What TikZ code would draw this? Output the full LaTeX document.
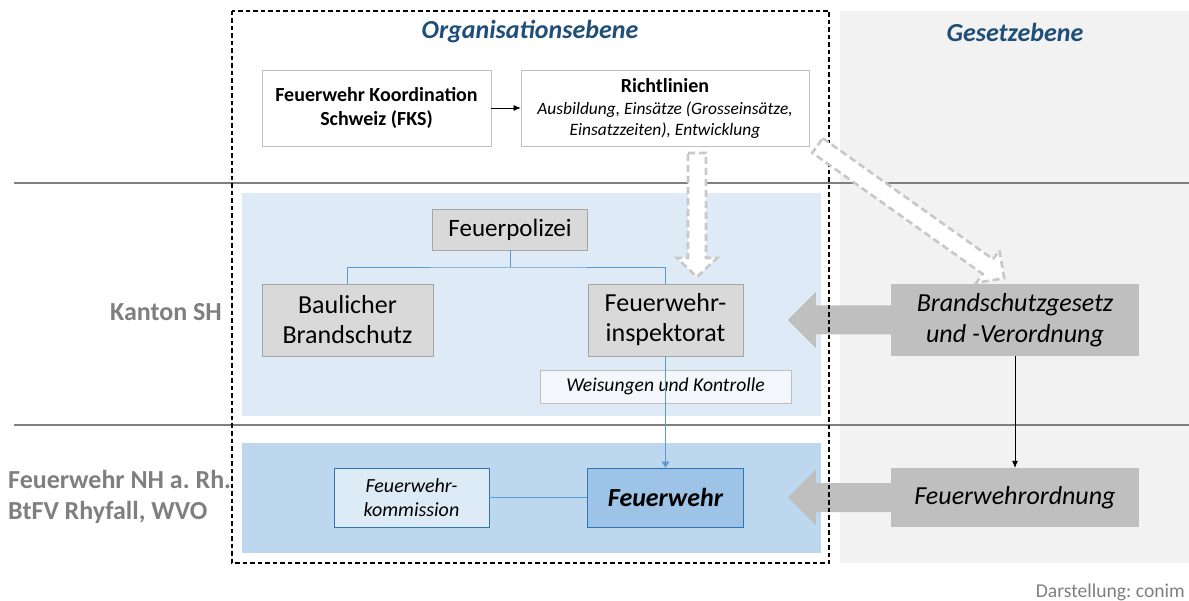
\documentclass[tikz,border=0pt]{standalone}
\usepackage{fontspec}
\setmainfont{Carlito}
\usetikzlibrary{arrows.meta}
\definecolor{panelgray}{HTML}{F2F2F2}
\definecolor{kanton}{HTML}{DEEAF6}
\definecolor{lower}{HTML}{BDD7EE}
\definecolor{boxgray}{HTML}{D9D9D9}
\definecolor{gesgray}{HTML}{BFBFBF}
\definecolor{blueline}{HTML}{5B9BD5}
\definecolor{blueborder}{HTML}{2E75B6}
\definecolor{titleblue}{HTML}{1F4E79}
\definecolor{labelgray}{HTML}{7F7F7F}
\definecolor{komfill}{HTML}{DDEBF7}
\definecolor{fwfill}{HTML}{9DC3E6}
\definecolor{weisfill}{HTML}{F3F7FC}
\definecolor{hollowgray}{HTML}{C8C8C8}
\definecolor{sepgray}{HTML}{7F7F7F}
\frenchspacing
\begin{document}
\frenchspacing
\begin{tikzpicture}[x=1pt,y=-1pt,
  box/.style={draw, inner sep=0pt, align=center},
  whitebox/.style={box, draw=gesgray, fill=white, line width=0.8pt},
  graybox/.style={box, draw=gray!70, fill=boxgray, line width=0.8pt},
  bluebox/.style={box, draw=blueborder, line width=0.9pt},
  gesbox/.style={box, draw=none, fill=gesgray},
  bigarrow/.style={fill=gesgray, draw=none},
  hollow/.style={draw=hollowgray, line width=2.6pt, dash pattern=on 7pt off 4pt, fill=white, line join=miter},
  sepline/.style={draw=sepgray, line width=2pt},
  treeline/.style={draw=blueline, line width=0.8pt},
  fs/.style n args={2}{font=\fontsize{#1}{#2}\selectfont}
]
\useasboundingbox (0,0) rectangle (1189,601);

% panels
\fill[panelgray] (840,11) rectangle (1189,563);
\coordinate (s1l) at (14,183); \coordinate (s1r) at (1189,183);
\coordinate (s2l) at (14,425); \coordinate (s2r) at (1189,425);
\draw[sepline] (s1l) -- (s1r);
\draw[sepline] (s2l) -- (s2r);
\fill[kanton] (242,193) rectangle (821,416);
\fill[lower] (242,443) rectangle (821,553);

% titles
\node[font=\fontsize{26}{31}\selectfont\bfseries\itshape, text=titleblue] (org) at (530,32) {Organisationsebene};
\node[font=\fontsize{26}{31}\selectfont\bfseries\itshape, text=titleblue] (ges) at (1015,32) {Gesetzebene};

% left labels
\node[font=\fontsize{26}{31}\selectfont\bfseries, text=labelgray, anchor=east, inner sep=0pt] (kanton) at (222,312) {Kanton SH};
\node[font=\fontsize{26}{31}\selectfont\bfseries, text=labelgray, anchor=west, align=left, inner sep=0pt] (gemeinde) at (8,497) {Feuerwehr NH a. Rh.\\BtFV Rhyfall, WVO};

% top boxes
\node[whitebox, minimum width=229pt, minimum height=76pt, font=\fontsize{20}{24.5}\selectfont\bfseries] (fks) at (376.5,108) {Feuerwehr Koordination\\Schweiz (FKS)};
\node[whitebox, minimum width=288pt, minimum height=76pt, font=\fontsize{17.4}{21}\selectfont\itshape] (rich) at (665,108) {{\fontsize{20}{21}\selectfont\bfseries\upshape Richtlinien}\\[1pt]Ausbildung, Einsätze (Grosseinsätze,\\Einsatzzeiten), Entwicklung};
\draw[-{Latex[length=7pt,width=6pt]}, line width=0.6pt] (fks) -- (rich);

% Kanton boxes
\node[graybox, minimum width=155pt, minimum height=41pt, fs={25}{29}] (fp) at (510,229.5) {Feuerpolizei};
\node[graybox, minimum width=171pt, minimum height=72pt, fs={26}{30}] (bb) at (347.5,320) {Baulicher\\Brandschutz};
\node[graybox, minimum width=155pt, minimum height=72pt, fs={26}{30}] (fi) at (665.5,320) {Feuerwehr-\\inspektorat};
\coordinate (tj) at (510,267);
\draw[treeline] (fp.south) -- (tj);
\draw[treeline] (bb.north) |- (tj) -| (fi.north);
\node[box, draw=gesgray, fill=weisfill, line width=0.8pt, minimum width=251pt, minimum height=33pt, font=\fontsize{19.6}{23}\selectfont\itshape] (weis) at (665.5,386.5) {Weisungen und Kontrolle};

% Gemeinde boxes
\node[bluebox, fill=komfill, minimum width=155pt, minimum height=59pt, font=\fontsize{20}{24}\selectfont\itshape] (kom) at (411.5,497.5) {Feuerwehr-\\kommission};
\node[bluebox, fill=fwfill, minimum width=156pt, minimum height=59pt, font=\fontsize{26}{30}\selectfont\bfseries\itshape] (fw) at (665.5,497.5) {Feuerwehr};
\draw[treeline] (kom) -- (fw);
\draw[draw=blueline, line width=0.8pt, -{Triangle[length=6pt,width=8pt]}] (fi.south) -- (fw.north);

% law boxes
\node[gesbox, minimum width=248pt, minimum height=72pt, font=\fontsize{26}{30.5}\selectfont\itshape] (bsg) at (1015,320) {Brandschutzgesetz\\und -Verordnung};
\node[gesbox, minimum width=248pt, minimum height=59pt, font=\fontsize{26}{30}\selectfont\itshape] (fwo) at (1015,497.5) {Feuerwehrordnung};
\draw[-{Latex[length=7pt,width=6pt]}, line width=0.6pt] (bsg.south) -- (fwo.north);

% big gray arrows
\fill[bigarrow] (bsg.west) ++(0,-14.5) -- ++(-75,0) -- ++(0,-13.5) -- ++(-28,28) -- ++(28,28) -- ++(0,-13.5) -- ++(75,0) -- cycle;
\fill[bigarrow] (fwo.west) ++(0,-14.5) -- ++(-75,0) -- ++(0,-13.5) -- ++(-28,28) -- ++(28,28) -- ++(0,-13.5) -- ++(75,0) -- cycle;

% dashed frame
\draw[line width=1.2pt, dash pattern=on 4.5pt off 3pt] (232,11) rectangle (829,563);

% hollow dashed arrows
\begin{scope}[shift={(697,153)}]
\draw[hollow] (-9,0) -- (9,0) -- (9,105) -- (20,105) -- (0,124) -- (-20,105) -- (-9,105) -- cycle;
\end{scope}
\begin{scope}[shift={(817.5,145.5)}, rotate=-35.4]
\draw[hollow] (0,-9) -- (209,-9) -- (209,-20) -- (229,0) -- (209,20) -- (209,9) -- (0,9) -- cycle;
\end{scope}

% credit
\node[font=\fontsize{19.6}{23}\selectfont, text=labelgray, anchor=east, inner sep=0pt] (credit) at (1185,592) {Darstellung: conim};
\end{tikzpicture}
\end{document}
